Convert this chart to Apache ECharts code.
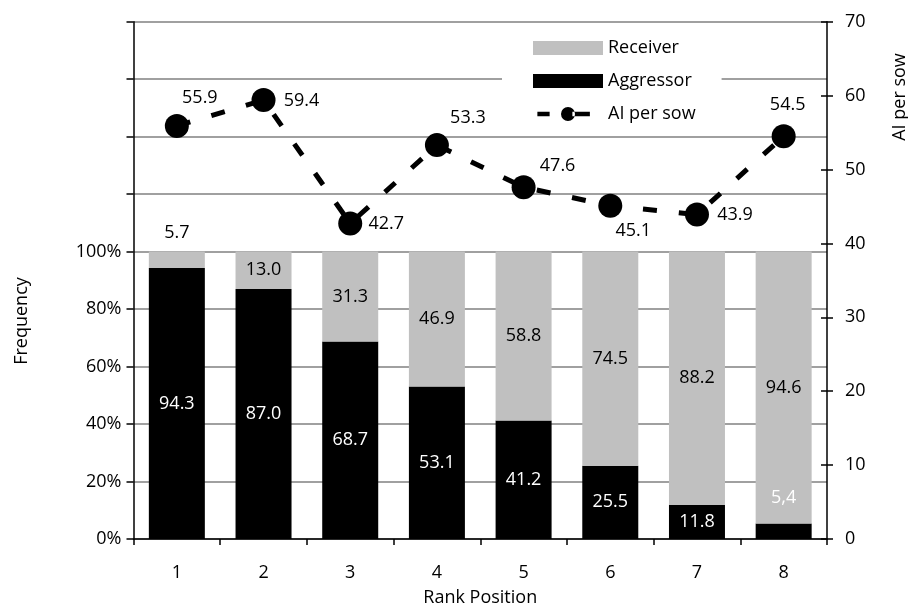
<!DOCTYPE html>
<html>
<head>
<meta charset="utf-8">
<script src="https://cdn.jsdelivr.net/npm/echarts@6/dist/echarts.min.js"></script>
<style>
html,body{margin:0;padding:0;background:#fff;}
#chart{width:908px;height:612px;}
</style>
</head>
<body>
<div id="chart"></div>
<script>
// ---- data ----
var categories = ['1', '2', '3', '4', '5', '6', '7', '8'];
var aggressor = [94.3, 87.0, 68.7, 53.1, 41.2, 25.5, 11.8, 5.4];
var receiver = [5.7, 13.0, 31.3, 46.9, 58.8, 74.5, 88.2, 94.6];
var aiPerSow = [55.9, 59.4, 42.7, 53.3, 47.6, 45.1, 43.9, 54.5];
var leftAxis = { min: 0, max: 180, interval: 20, labelMax: 100 };
var rightAxis = { min: 0, max: 70, interval: 10 };

// ---- label layout (style only) ----
var lineLabelOffsets = [[23, -28], [38, 1], [36, 0], [31, -27], [34, -21], [23, 25], [38, 0], [4, -31]];
var lineLegendIcon = 'path://M0 4.5h14v5H0z M27 7a8 8 0 1 0 16 0a8 8 0 1 0 -16 0z M40 4.5h20v5H40z M69.9 6.9h0.1v0.1h-0.1z';

var FONT = 'Open Sans';
var fmt1 = function (v) { return Number(v).toFixed(1); };

var aggData = aggressor.map(function (v, i) {
  if (i === aggressor.length - 1) {
    return { value: v, label: { position: 'top', distance: 17, color: '#fff',
      formatter: function (p) { return fmt1(p.value).replace('.', ','); } } };
  }
  return v;
});
var recData = receiver.map(function (v, i) {
  if (i === 0) {
    return { value: v, label: { position: 'top', distance: 10, color: '#000' } };
  }
  return v;
});
var lineData = aiPerSow.map(function (v, i) {
  return { value: v, label: { offset: lineLabelOffsets[i] } };
});

var chart = echarts.init(document.getElementById('chart'), null, { renderer: 'canvas' });
chart.setOption({
  animation: false,
  backgroundColor: '#fff',
  textStyle: { fontFamily: FONT },
  grid: { left: 133.5, right: 81, top: 21.7, bottom: 68, containLabel: false },
  legend: {
    orient: 'vertical',
    left: 502,
    top: 29,
    padding: [10, 26, 10, 31],
    backgroundColor: '#fff',
    itemWidth: 70,
    itemHeight: 14,
    itemGap: 15,
    textStyle: { fontFamily: FONT, fontSize: 18, color: '#000' },
    data: [
      { name: 'Receiver', icon: 'rect' },
      { name: 'Aggressor', icon: 'rect' },
      { name: 'AI per sow', icon: lineLegendIcon }
    ]
  },
  xAxis: {
    type: 'category',
    data: categories,
    boundaryGap: true,
    axisLine: { lineStyle: { color: '#000', width: 1.5 } },
    axisTick: { show: true, alignWithLabel: false, length: 6, lineStyle: { color: '#000', width: 1.5 } },
    axisLabel: { margin: 25, fontSize: 18, color: '#000', fontFamily: FONT },
    name: 'Rank Position',
    nameLocation: 'middle',
    nameGap: 50,
    nameTextStyle: { fontSize: 18, color: '#000', fontFamily: FONT },
    splitLine: { show: false }
  },
  yAxis: [
    {
      type: 'value',
      min: leftAxis.min, max: leftAxis.max, interval: leftAxis.interval,
      position: 'left',
      axisLine: { show: true, lineStyle: { color: '#000', width: 1.5 } },
      axisTick: { show: true, length: 7, lineStyle: { color: '#000', width: 1.5 } },
      axisLabel: {
        margin: 12, fontSize: 18, color: '#000', fontFamily: FONT,
        formatter: function (v) { return v <= leftAxis.labelMax ? v + '%' : ''; }
      },
      splitLine: { show: true, lineStyle: { color: '#808080', width: 1.5 } }
    },
    {
      type: 'value',
      min: rightAxis.min, max: rightAxis.max, interval: rightAxis.interval,
      position: 'right',
      axisLine: { show: true, lineStyle: { color: '#000', width: 1.5 } },
      axisTick: { show: true, length: 6, lineStyle: { color: '#000', width: 1.5 } },
      axisLabel: { margin: 18, fontSize: 18, color: '#000', fontFamily: FONT },
      splitLine: { show: false }
    },
    {
      type: 'value',
      min: rightAxis.min, max: rightAxis.max, interval: rightAxis.interval,
      position: 'right',
      axisLine: { show: false },
      axisTick: { show: true, inside: true, length: 6, lineStyle: { color: '#000', width: 1.5 } },
      axisLabel: { show: false },
      splitLine: { show: false }
    }
  ],
  graphic: [
    { type: 'text', x: 21.5, y: 321, rotation: Math.PI / 2,
      style: { text: 'Frequency', font: '18px "' + FONT + '"', fill: '#000', align: 'center', verticalAlign: 'middle' } },
    { type: 'text', x: 899.5, y: 97, rotation: Math.PI / 2,
      style: { text: 'AI per sow', font: '18px "' + FONT + '"', fill: '#000', align: 'center', verticalAlign: 'middle' } }
  ],
  series: [
    {
      name: 'Aggressor', type: 'bar', stack: 'freq', yAxisIndex: 0,
      barWidth: 56,
      itemStyle: { color: '#000' },
      label: { show: true, position: 'inside', color: '#fff', fontSize: 18, fontFamily: FONT,
        formatter: function (p) { return fmt1(p.value); } },
      data: aggData
    },
    {
      name: 'Receiver', type: 'bar', stack: 'freq', yAxisIndex: 0,
      barWidth: 56,
      itemStyle: { color: '#c0c0c0' },
      label: { show: true, position: 'inside', color: '#000', fontSize: 18, fontFamily: FONT,
        formatter: function (p) { return fmt1(p.value); } },
      data: recData
    },
    {
      name: 'AI per sow', type: 'line', yAxisIndex: 1, z: 5,
      symbol: 'circle', symbolSize: 24,
      itemStyle: { color: '#000' },
      lineStyle: { color: '#000', width: 5, type: [14, 22], cap: 'butt' },
      label: { show: true, position: 'inside', color: '#000', fontSize: 18, fontFamily: FONT,
        formatter: function (p) { return fmt1(p.value); } },
      data: lineData
    }
  ]
});
</script>
</body>
</html>
